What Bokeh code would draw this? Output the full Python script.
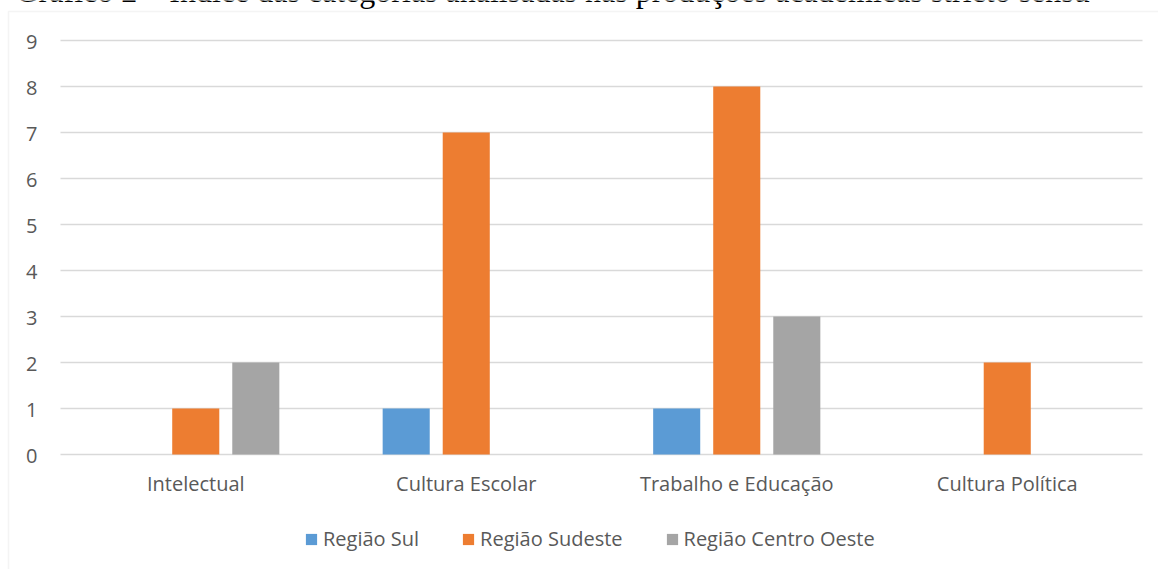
from bokeh.plotting import figure
from bokeh.models import ColumnDataSource, Range1d, Legend, LegendItem, Label, BoxAnnotation
from bokeh.core.properties import value
from bokeh.transform import dodge
from bokeh.embed import file_html
from bokeh.resources import INLINE

categories = ["Intelectual", "Cultura Escolar", "Trabalho e Educação", "Cultura Política"]
regiao_sul = [0, 1, 1, 0]
regiao_sudeste = [1, 7, 8, 2]
regiao_centro_oeste = [2, 0, 3, 0]
series_names = ["Região Sul", "Região Sudeste", "Região Centro Oeste"]
y_ticks = [0, 1, 2, 3, 4, 5, 6, 7, 8, 9]
y_tick_labels = ["0", "1", "2", "3", "4", "5", "6", "7", "8", "9"]
title_text = "Gráfico 2 – Índice das categorias analisadas nas produções acadêmicas stricto sensu"

colors = ["#5B9BD5", "#ED7D31", "#A5A5A5"]
TEXT = "#595959"
GRID = "#D9D9D9"
FONT = "Open Sans"

W, H = 1158, 569
n = len(categories)
ymax = y_ticks[-1]
# plot area in pixels: left 60, right 1142, top 40 (=9), bottom 454 (=0)
PX_X = (1142 - 60) / n
PX_Y = (454 - 40) / ymax
x_start = -60 / PX_X
x_end = n + (W - 1142) / PX_X
y_end = ymax + 40 / PX_Y
y_start = -(H - 454) / PX_Y

xs = [i + 0.5 for i in range(n)]
src = ColumnDataSource(dict(x=xs, cat=categories, sul=regiao_sul, sudeste=regiao_sudeste,
                            co=regiao_centro_oeste))

p = figure(x_range=Range1d(x_start, x_end), y_range=Range1d(y_start, y_end),
           width=W, height=H, min_border=0, x_axis_location=None, y_axis_location=None,
           output_backend="svg", toolbar_location=None)
p.outline_line_color = None
p.grid.visible = False

# horizontal gridlines across the plot area
grid_src = ColumnDataSource(dict(y=y_ticks, x0=[0] * len(y_ticks), x1=[n] * len(y_ticks)))
p.segment(x0="x0", x1="x1", y0="y", y1="y", source=grid_src, line_color=GRID, line_width=1.3)

off = 0.222
bw = 0.174
renderers = []
for field, dx, c in zip(["sul", "sudeste", "co"], [-off, 0, off], colors):
    r = p.vbar(x=dodge("x", dx), top=field, width=bw, source=src, fill_color=c, line_color=None)
    renderers.append(r)

# y tick labels
ylab_src = ColumnDataSource(dict(y=y_ticks, x=[0] * len(y_ticks), t=y_tick_labels))
p.text(x="x", y="y", text="t", source=ylab_src, x_offset=-23, y_offset=1,
       text_align="right", text_baseline="alphabetic", text_color=TEXT,
       text_font=value(FONT), text_font_size=value("20px"))

# category labels
xlab_src = ColumnDataSource(dict(x=xs, y=[0] * n, t=categories))
p.text(x="x", y="y", text="t", source=xlab_src, y_offset=29,
       text_align="center", text_baseline="alphabetic", text_color=TEXT,
       text_font=value(FONT), text_font_size=value("20px"))

legend = Legend(items=[LegendItem(label=s, renderers=[r]) for s, r in zip(series_names, renderers)],
                orientation="horizontal", location=(304, 17),
                glyph_width=14, glyph_height=14, label_standoff=5, spacing=42,
                label_text_font=FONT, label_text_font_size="20px", label_text_color=TEXT,
                border_line_color=None, background_fill_alpha=0, padding=0, margin=0)
p.add_layout(legend, "center")

border = BoxAnnotation(left=x_start + 8 / PX_X, right=x_end + 1, top=y_end - 11 / PX_Y, bottom=y_start - 1,
                       fill_alpha=0, line_color=GRID, line_width=1.5)
p.add_layout(border)

title = Label(x=x_start + 15 / PX_X, y=y_end + 10 / PX_Y, text=title_text,
              text_font="Liberation Serif", text_font_size="32px", text_color="#000000",
              text_baseline="alphabetic")
p.add_layout(title)

open("out.html", "w").write(file_html(p, INLINE))
